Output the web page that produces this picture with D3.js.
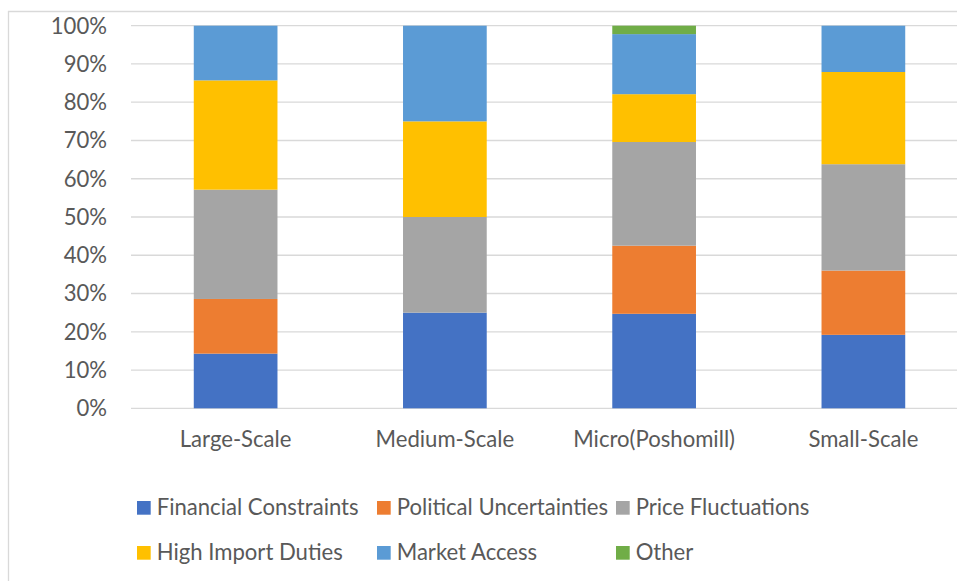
<!DOCTYPE html>
<html>
<head>
<meta charset="utf-8">
<script src="https://cdn.jsdelivr.net/npm/d3@7"></script>
<style>
  html, body { margin: 0; padding: 0; background: #fff; }
  svg { display: block; }
  text { font-family: Lato, "Open Sans", sans-serif; fill: #595959; }
</style>
</head>
<body>
<svg id="chart" width="957" height="581"></svg>
<script>
// Share of respondents (%) naming each constraint, by enterprise scale
const categories = ["Large-Scale", "Medium-Scale", "Micro(Poshomill)", "Small-Scale"];
const financialConstraints = [14.29, 25, 24.7, 19.2];
const politicalUncertainties = [14.29, 0, 17.8, 16.8];
const priceFluctuations = [28.57, 25, 27.1, 27.8];
const highImportDuties = [28.57, 25, 12.5, 24.1];
const marketAccess = [14.29, 25, 15.7, 12.1];
const other = [0, 0, 2.2, 0];
const yTicks = [0, 0.1, 0.2, 0.3, 0.4, 0.5, 0.6, 0.7, 0.8, 0.9, 1];

const seriesNames = ["Financial Constraints", "Political Uncertainties", "Price Fluctuations",
                     "High Import Duties", "Market Access", "Other"];
const seriesValues = [financialConstraints, politicalUncertainties, priceFluctuations,
                      highImportDuties, marketAccess, other];
const colors = ["#4472C4", "#ED7D31", "#A5A5A5", "#FFC000", "#5B9BD5", "#70AD47"];

const rows = categories.map((c, i) => {
  const r = { category: c };
  seriesNames.forEach((s, j) => { r[s] = seriesValues[j][i]; });
  return r;
});

const svg = d3.select("#chart");

// font size chosen so the legend text keeps its intended width
const probe = svg.append("text").attr("font-size", 24).text("Financial Constraints");
const fontSize = 24 * 202 / probe.node().getComputedTextLength();
probe.remove();

// chart frame
svg.append("line").attr("x1", 8).attr("x2", 957).attr("y1", 11.5).attr("y2", 11.5)
  .attr("stroke", "#d9d9d9").attr("stroke-width", 1.3);
svg.append("line").attr("x1", 8.5).attr("x2", 8.5).attr("y1", 11).attr("y2", 581)
  .attr("stroke", "#d9d9d9").attr("stroke-width", 1.3);

const x = d3.scaleBand().domain(categories).range([131, 968])
  .paddingInner(0.6).paddingOuter(0.3);
const y = d3.scaleLinear().domain([0, 1]).range([408.3, 25.7]);

// horizontal gridlines
svg.append("g").selectAll("line").data(yTicks).join("line")
  .attr("x1", 131).attr("x2", 968)
  .attr("y1", d => y(d)).attr("y2", d => y(d))
  .attr("stroke", "#d9d9d9").attr("stroke-width", 1.3);

// y axis labels
const yAxis = d3.axisLeft(y).tickValues(yTicks).tickFormat(d3.format(".0%")).tickSize(0).tickPadding(0);
const yg = svg.append("g").attr("transform", "translate(107,0)").call(yAxis);
yg.select(".domain").remove();
yg.selectAll("text").attr("font-size", fontSize).attr("fill", "#595959")
  .style("font-family", "Lato, 'Open Sans', sans-serif").attr("dy", "0.33em");

// stacked columns, normalised to 100%
const stack = d3.stack().keys(seriesNames).offset(d3.stackOffsetExpand);
const layers = stack(rows);

svg.append("g").selectAll("g").data(layers).join("g")
  .attr("fill", (d, i) => colors[i])
  .selectAll("rect").data(d => d).join("rect")
  .attr("x", d => x(d.data.category))
  .attr("width", x.bandwidth())
  .attr("y", d => y(d[1]))
  .attr("height", d => Math.max(0, y(d[0]) - y(d[1])));

// category axis labels
const xAxis = d3.axisBottom(x).tickSize(0).tickPadding(0);
const xg = svg.append("g").attr("transform", "translate(0,447)").call(xAxis);
xg.select(".domain").remove();
xg.selectAll("text").attr("font-size", fontSize).attr("fill", "#595959")
  .style("font-family", "Lato, 'Open Sans', sans-serif").attr("dy", 0);

// legend, three items per row
const legendCols = [137, 377, 616];
const legendRows = [515, 560];
const legend = svg.append("g").selectAll("g").data(seriesNames).join("g")
  .attr("transform", (d, i) => `translate(${legendCols[i % 3]},${legendRows[Math.floor(i / 3)]})`);
legend.append("rect").attr("x", 0).attr("y", -14).attr("width", 13.7).attr("height", 13.7)
  .attr("fill", (d, i) => colors[i]);
legend.append("text").attr("x", 19.7).attr("y", 0).attr("font-size", fontSize).text(d => d);
</script>
</body>
</html>
